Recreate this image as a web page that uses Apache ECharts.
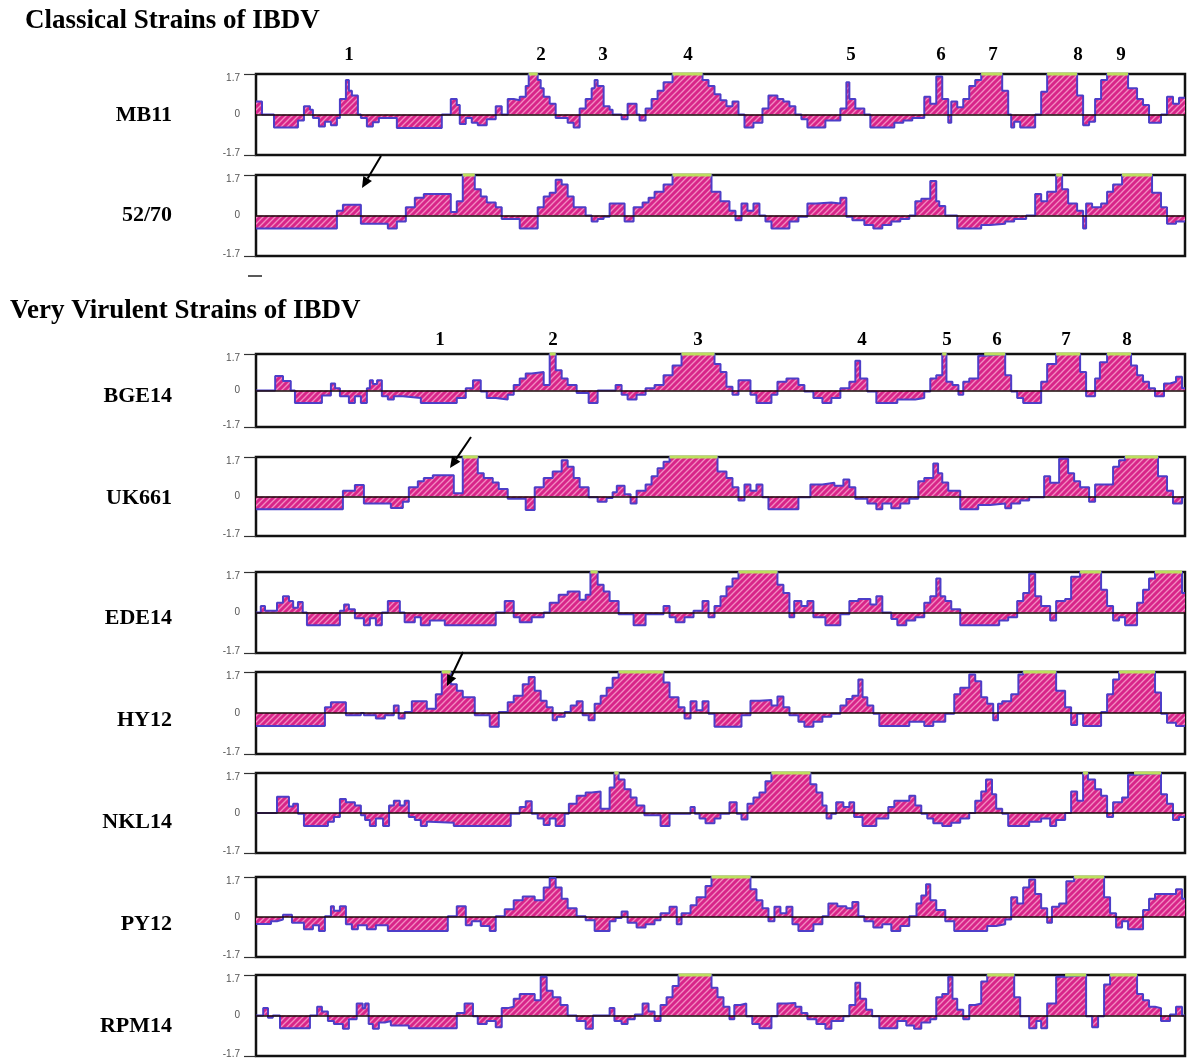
<!DOCTYPE html>
<html><head><meta charset="utf-8">
<script src="https://cdn.jsdelivr.net/npm/echarts@6/dist/echarts.min.js"></script>
<style>html,body{margin:0;padding:0;background:#fff}#c{width:1187px;height:1059px}</style>
</head><body><div id="c"></div>
<script>
// ---- DATA: antigenic index profiles, [position, value] breakpoints (value holds until next position) ----
const strains = ['MB11', '52/70', 'BGE14', 'UK661', 'EDE14', 'HY12', 'NKL14', 'PY12', 'RPM14'];

const mb11 = [[2,0.55],[4,0],[8,-0.55],[16,-0.25],[18,0.35],[20,0.2],[21,-0.15],[23,-0.5],[25,-0.3],[27,-0.45],[29,-0.15],[30,0.65],[32,1.45],[33,1.0],[34,0.8],[36,0],[37,-0.15],[39,-0.5],[41,-0.33],[43,-0.15],[49,-0.57],[64,0],[67,0.65],[69,0.4],[70,-0.4],[72,-0.15],[74,-0.35],[76,-0.45],[79,-0.2],[82,0.35],[84,0],[86,0.65],[88,0.6],[90,0.75],[92,1.2],[93,1.7],[96,1.45],[97,1.1],[98,0.75],[100,0.45],[102,-0.15],[106,-0.35],[108,-0.55],[110,0.25],[112,0.65],[114,1.1],[115,1.45],[116,1.2],[118,0.35],[120,0.2],[121,0],[124,-0.2],[126,0.45],[129,0],[130,-0.25],[132,0.25],[134,0.65],[136,1.0],[138,1.35],[141,1.7],[151,1.45],[153,1.2],[155,0.85],[157,0.6],[159,0.35],[161,0.55],[163,0],[165,-0.55],[168,-0.35],[171,0.25],[173,0.8],[176,0.65],[178,0.55],[180,0.35],[182,0],[184,-0.2],[186,-0.55],[192,-0.25],[197,0.25],[199,1.35],[200,0.65],[202,0.25],[205,0],[207,-0.55],[215,-0.35],[218,-0.25],[221,-0.15],[225,0.75],[227,0.45],[229,1.6],[231,0.65],[233,-0.35],[234,0.55],[236,0.3],[238,0.65],[240,1.2],[242,1.45],[244,1.7],[251,1.0],[253,0],[254,-0.55],[255,-0.3],[257,-0.55],[262,0],[264,0.95],[266,1.7],[276,0.8],[278,-0.45],[280,-0.3],[282,0.65],[284,1.45],[286,1.7],[293,1.1],[296,0.65],[298,0.4],[300,-0.35],[304,0],[306,0.75],[308,0.45],[310,0.7],[312,0.7]];

const s5270 = [[2,-0.55],[29,0.2],[31,0.45],[37,-0.35],[46,-0.55],[49,-0.25],[52,0.35],[55,0.75],[58,0.9],[67,0.15],[69,0.6],[71,1.7],[75,1.1],[77,0.8],[79,0.55],[82,0.35],[84,-0.15],[90,-0.55],[96,0.35],[98,0.8],[100,0.95],[102,1.5],[104,1.3],[106,0.8],[108,0.35],[112,0],[114,-0.25],[116,-0.15],[118,-0.05],[120,0.5],[125,-0.25],[128,0.35],[131,0.55],[133,0.75],[135,1.0],[138,1.3],[141,1.7],[154,1.0],[157,0.6],[160,0.2],[162,-0.2],[164,0.5],[166,0.2],[168,0.5],[170,0],[172,-0.25],[174,-0.55],[180,-0.25],[183,-0.05],[186,0.5],[189,0.55],[194,0.5],[197,0.75],[199,-0.05],[201,-0.2],[205,-0.4],[208,-0.55],[211,-0.4],[214,-0.25],[217,-0.15],[220,0],[222,0.6],[224,0.7],[227,1.45],[229,0.6],[230,0.4],[232,0],[236,-0.55],[244,-0.4],[247,-0.35],[252,-0.25],[255,-0.15],[259,0],[262,0.9],[264,0.6],[266,1.0],[269,1.7],[271,1.1],[273,0.5],[276,0.2],[278,-0.55],[279,0.5],[281,0.35],[284,0.5],[286,1.0],[288,1.3],[291,1.7],[301,0.95],[304,0.35],[306,-0.35],[309,-0.25],[312,-0.25]];

const bge14 = [[2,0],[8.4,0.68],[11,0.44],[13.6,0],[15,-0.58],[24,-0.23],[27,0.33],[28.4,0.1],[30,-0.27],[33,-0.58],[35,-0.27],[37,-0.58],[39,0.1],[40,0.48],[41,0.3],[42.4,0.48],[44,-0.27],[46,-0.42],[48,-0.27],[51,-0.35],[57,-0.58],[69,-0.35],[72,0.1],[74.4,0.48],[77,-0.05],[79,-0.35],[82,-0.42],[86,-0.2],[88,0.26],[90,0.56],[92,0.79],[94,0.86],[98,0.26],[100,1.7],[102,0.94],[104,0.56],[106,0.26],[109,-0.12],[113,-0.58],[116,0],[122,0.26],[124,-0.2],[126,-0.42],[129,-0.2],[132,0.1],[135,0.26],[138,0.71],[141,1.17],[144,1.7],[155,1.24],[157,0.86],[159,0.18],[161,-0.2],[163,0.48],[166,0.48],[167,-0.2],[169,-0.58],[174,-0.2],[176,0.41],[179,0.56],[183,0.26],[185,-0.05],[188,-0.35],[191,-0.58],[194,-0.35],[197,0.1],[200,0.41],[202,1.39],[203.6,0.56],[206,-0.05],[209,-0.58],[216,-0.42],[222,-0.35],[225,-0.05],[227,0.56],[229,0.71],[231,1.7],[232.4,0.41],[234.4,0.26],[236.4,-0.2],[238,0.41],[240,0.56],[243,1.62],[245,1.7],[252,0.71],[254,-0.05],[256,-0.35],[258,-0.58],[264,0.41],[266,1.24],[269,1.7],[277,0.86],[279,-0.27],[282,0.56],[283.6,1.32],[286,1.7],[294,1.17],[296,0.71],[298,0.41],[300,0.1],[302,-0.27],[305,0.33],[307,0.41],[309,0.64],[311,0.1],[312,0.1]];

const uk661 = [[2,-0.55],[31,0.25],[35,0.5],[38,-0.3],[47,-0.5],[51,-0.23],[53,0.4],[56,0.66],[58,0.8],[61,0.91],[68,0.14],[71,1.7],[76,1.0],[78,0.8],[81,0.6],[83,0.32],[86,-0.1],[92,-0.58],[95,0.4],[98,0.8],[101,1.08],[104,1.56],[106,1.28],[108,0.8],[110,0.4],[113,-0.03],[116,-0.23],[119,-0.06],[121,0.18],[122.4,0.46],[125,0.1],[127,-0.3],[129,0.25],[132,0.52],[134,0.87],[136,1.22],[138,1.5],[140,1.7],[156,1.08],[159,0.8],[161,0.4],[163,-0.17],[165,0.52],[167,0.25],[169,0.52],[171,-0.03],[173,-0.55],[183,-0.03],[187,0.52],[191,0.59],[195,0.46],[198,0.73],[200,0.4],[202,-0.1],[206,-0.3],[209,-0.55],[211,-0.3],[214,-0.51],[217,-0.3],[220,-0.1],[223,0.66],[225,0.8],[228,1.42],[229.6,1.0],[231,0.6],[233,0.25],[237,-0.55],[243,-0.37],[247,-0.3],[252,-0.51],[254,-0.3],[257,-0.17],[260,-0.03],[265,0.87],[267,0.59],[270,1.63],[273,1.0],[275,0.66],[277,0.4],[280,-0.23],[282,0.52],[288,1.28],[290,1.56],[292,1.7],[303,0.87],[306,0.25],[308,-0.3],[311,-0.03],[312,-0.03]];

const ede14 = [[2,0],[3.6,0.27],[5,0.07],[9,0.41],[11,0.68],[13,0.48],[14.4,0.2],[16,0.44],[17.6,0],[19,-0.54],[30,0.07],[31.4,0.34],[33,0.14],[35,-0.24],[38,-0.54],[40,-0.24],[42,-0.54],[44,0],[46,0.48],[50,0],[51.6,-0.41],[55,-0.2],[57,-0.54],[60,-0.34],[65,-0.54],[82,0],[85,0.48],[88,-0.2],[90,-0.41],[94,-0.2],[98,0],[100,0.41],[103,0.75],[106,0.88],[110,0.54],[112,0.75],[113.6,1.7],[116,1.16],[118,0.88],[120,0.48],[123,-0.07],[128,-0.54],[132,-0.07],[138,0.27],[140,-0.2],[142,-0.41],[145,-0.2],[148,0.07],[151,0.48],[153,-0.2],[155,0.27],[157,0.68],[159,1.09],[161,1.43],[163,1.7],[176,1.16],[178,0.82],[180,-0.2],[181.6,0.48],[184,0.27],[186,0.48],[188,-0.2],[192,-0.54],[197,-0.07],[200,0.48],[203,0.57],[207,0.34],[209,0.68],[211,0],[214,-0.27],[216,-0.54],[219,-0.34],[222,-0.2],[225,0.41],[227,0.68],[229,1.43],[230.4,0.68],[232,0.48],[234,0.14],[237,-0.54],[250,-0.34],[253,-0.2],[256,0.48],[258,0.82],[260,1.63],[262,0.68],[264,0.27],[267,-0.34],[269,0.48],[272,0.57],[274,1.5],[277,1.7],[284,0.95],[286,0.27],[288,-0.34],[290,-0.2],[292,-0.54],[296,0.41],[298,0.95],[300,1.43],[302,1.7],[311,0.82],[312,0.82]];

const hy12 = [[2,-0.54],[25,0.24],[27,0.45],[32,-0.09],[37,0],[38,-0.09],[42,-0.23],[45,-0.09],[48,0.31],[49.6,-0.23],[51.6,0.04],[54,0.49],[59,0.18],[62,0.78],[64,1.7],[67,1.19],[69,0.92],[71,0.65],[75,-0.09],[80,-0.57],[83,0.04],[86,0.45],[88,0.72],[91,1.19],[93,1.49],[95,0.92],[97,0.51],[99,0.24],[101,-0.3],[102.4,-0.16],[105,0.04],[107,0.31],[109,0.49],[111,-0.09],[113,-0.3],[115,0.38],[117,0.72],[119,1.05],[121,1.46],[123,1.7],[138,1.26],[140,0.65],[143,0.24],[145,-0.23],[147,0.49],[149,0.11],[151,0.49],[153,-0.03],[155,-0.57],[164,-0.09],[167,0.51],[170,0.54],[174,0.31],[176,0.68],[178,0.24],[180,-0.09],[183,-0.36],[185,-0.57],[188,-0.36],[191,-0.16],[194,-0.03],[197,0.31],[199,0.58],[201,0.72],[203,1.39],[204.4,0.65],[206,0.31],[208,-0.03],[210,-0.54],[220,-0.36],[225,-0.54],[228,-0.36],[232,-0.03],[235,0.78],[237,1.05],[240,1.6],[242,1.32],[244,0.65],[246,0.38],[248,-0.3],[249.6,0.38],[251,0.49],[254,0.78],[256.4,1.6],[258,1.7],[269,0.92],[272,0.24],[274,-0.5],[276,-0.03],[278,-0.54],[284,0.04],[286,0.78],[288,1.39],[290,1.7],[302,0.85],[304,-0.03],[306,-0.4],[309,-0.54],[312,-0.54]];

const nkl14 = [[2,0],[9,0.69],[13,0.28],[14.4,0.39],[16,-0.03],[18,-0.55],[26,-0.37],[28,-0.17],[30,0.59],[32,0.46],[35,0.32],[37,-0.1],[38.4,-0.3],[40,-0.55],[42,-0.23],[44.4,-0.55],[46.4,0.32],[48,0.52],[50,0.32],[51.6,0.52],[53,-0.17],[55,-0.3],[57,-0.55],[59,-0.37],[60,-0.41],[68,-0.55],[87,-0.03],[90,0.25],[92,0.5],[94,-0.03],[96,-0.23],[98,-0.51],[100,-0.23],[102,-0.55],[105,-0.03],[106.4,0.39],[109,0.73],[112,0.87],[114,0.91],[117,0.18],[120,1.08],[121.6,1.7],[123,1.42],[125,1.01],[127,0.66],[129,0.32],[131.6,-0.1],[137,-0.55],[140,-0.03],[147,0.25],[148.4,-0.03],[150,-0.23],[152,-0.44],[155,-0.23],[157,-0.03],[160,0.46],[162.4,-0.03],[164,-0.28],[166,0.39],[168,0.66],[170,0.87],[172,1.35],[174,1.7],[187,1.22],[189,0.87],[191,0.32],[192.4,-0.23],[194,-0.03],[195.6,0.46],[198,0.25],[200,0.46],[201.6,-0.17],[204.4,-0.55],[209,-0.23],[213,0.25],[215,0.52],[220,0.73],[222,0.32],[224,-0.03],[226,-0.23],[228,-0.44],[231,-0.55],[234,-0.41],[237,-0.23],[240,0],[242,0.52],[244,0.91],[245.6,1.42],[247.6,0.8],[249,0.18],[251,-0.03],[253,-0.55],[260,-0.37],[264,-0.23],[267,-0.55],[269,-0.3],[272,0],[274,0.91],[276,0.52],[278,1.7],[279.6,1.42],[282,1.01],[284,0.73],[286,-0.17],[288,0.46],[291,0.66],[293,1.63],[295,1.7],[304,0.8],[306,0.39],[308,-0.3],[310,-0.17],[312,-0.17]];

const py12 = [[2,-0.3],[7,-0.18],[9,-0.11],[11,0.1],[14,-0.24],[18,-0.52],[21,-0.35],[23,-0.59],[25,0.03],[27,0.46],[28,0.27],[30,0.46],[32,-0.31],[34,-0.52],[36,-0.35],[39,-0.52],[42,-0.35],[46,-0.59],[66,0.03],[69,0.46],[72,-0.35],[74,-0.18],[77,-0.38],[80,-0.59],[82,0.03],[85,0.33],[88,0.71],[91,0.87],[95,0.71],[98,1.25],[100,1.66],[102,1.25],[104,0.78],[106,0.37],[109,0.03],[112,-0.14],[115,-0.59],[120,-0.18],[122,-0.04],[124,0.23],[126,-0.24],[129,-0.45],[132,-0.31],[135,-0.14],[137,0.16],[140,0.44],[142.4,-0.31],[144,0.16],[147,0.5],[149,0.84],[152,1.32],[154,1.7],[167,1.18],[169,0.71],[171,0.37],[173,-0.18],[175,0.44],[177,0.16],[179,0.44],[181,-0.31],[183,-0.59],[188,-0.31],[191,0.03],[193,0.57],[196,0.46],[199,0.37],[201,0.64],[203,0.03],[205,-0.18],[208,-0.45],[211,-0.31],[214,-0.59],[217,-0.38],[220,0.03],[222.4,0.57],[224,0.91],[225.6,1.39],[227,0.71],[229,0.3],[232,-0.18],[235,-0.59],[246,-0.38],[249,-0.31],[252,-0.11],[254,0.84],[256,0.57],[258,1.25],[260,1.59],[262,0.98],[264,0.37],[266,-0.24],[267.6,0.44],[270,0.57],[272.4,1.52],[275,1.7],[285,0.84],[287,0.16],[289,-0.45],[291,-0.18],[293,-0.52],[298,0.3],[300,0.78],[302,0.98],[309,1.18],[311,0.78],[312,0.78]];

const rpm14 = [[2,0],[4.4,0.31],[6,-0.09],[7.6,0],[10,-0.53],[20,0],[22.4,0.37],[24,0.17],[26,-0.23],[28,-0.36],[31,-0.56],[33,-0.16],[35.6,0.5],[37.6,0.3],[38.4,0.5],[39.6,-0.36],[41,-0.56],[43,-0.29],[45,-0.23],[47,-0.42],[53,-0.53],[69,0.11],[71.6,0.5],[74.4,-0.03],[76,-0.36],[79,-0.23],[82,-0.49],[84,0.31],[86,0.37],[88,0.7],[90,0.9],[95,0.64],[97,1.63],[99,1.04],[101,0.77],[103.6,0.44],[106,0],[109,-0.23],[112,-0.56],[114.4,0],[120,0.31],[121.6,-0.23],[124,-0.36],[126,-0.16],[128.4,0.04],[131,0.5],[133,0.17],[135,-0.23],[137,0.44],[139,0.77],[141,1.24],[143,1.7],[154,1.17],[156,0.77],[158,0.37],[160,-0.16],[161.6,0.44],[163.6,0.5],[165.6,-0.03],[167.6,-0.36],[170,-0.53],[174,-0.03],[176,0.5],[179,0.53],[182,0.37],[184,0.11],[186,-0.16],[189,-0.36],[192,-0.56],[194,-0.23],[198,-0.03],[200,0.44],[202,1.37],[203.6,0.7],[205.6,0.24],[207.6,-0.03],[210,-0.53],[216,-0.23],[219,-0.42],[221.6,-0.56],[224,-0.29],[227,-0.16],[229,0.77],[231,0.9],[233,1.63],[234.4,0.7],[236,0.24],[238,-0.16],[240,0.44],[242,0.5],[244,1.43],[246,1.7],[255,0.77],[257,-0.03],[260,-0.53],[262.4,-0.23],[264,-0.53],[266,0.5],[269,1.63],[272,1.7],[279,-0.03],[281,-0.49],[283,-0.03],[285,1.3],[287,1.7],[296,0.9],[298,0.64],[300,0.37],[302,0.31],[304,-0.23],[307,0.04],[309,0.37],[311,0],[312,0]];

const profiles = [mb11, s5270, bge14, uk661, ede14, hy12, nkl14, py12, rpm14];
const yTickValues = [-1.7, 0, 1.7];
const yMax = 1.7;
const classicalSites = ['1','2','3','4','5','6','7','8','9'];
const virulentSites = ['1','2','3','4','5','6','7','8'];
const groupTitles = ['Classical Strains of IBDV', 'Very Virulent Strains of IBDV'];

// ---- LAYOUT (pixels) ----
const panelTop    = [74, 175, 354, 457, 572, 672, 773, 877, 975];
const panelHeight = [81, 81, 73, 79, 81, 82, 80, 80, 81];
const labelY      = [115, 215, 396, 498, 618, 720, 822, 924, 1026];
const classicalSiteX = [349, 541, 603, 688, 851, 941, 993, 1078, 1121];
const virulentSiteX  = [440, 553, 698, 862, 947, 997, 1066, 1127];

function hatch() {
  const s = 6, c = document.createElement('canvas');
  c.width = s; c.height = s;
  const g = c.getContext('2d');
  g.fillStyle = '#d82589'; g.fillRect(0, 0, s, s);
  g.strokeStyle = '#f28cc2'; g.lineWidth = 1.3;
  g.beginPath();
  g.moveTo(0, s); g.lineTo(s, 0);
  g.moveTo(-s/2, s/2); g.lineTo(s/2, -s/2);
  g.moveTo(s/2, 1.5*s); g.lineTo(1.5*s, s/2);
  g.stroke();
  return c;
}
const pattern = { image: hatch(), repeat: 'repeat' };

// segments of each profile that reach the top of the scale
function topSegments(d) {
  const out = [];
  for (let i = 0; i < d.length - 1; i++) {
    if (d[i][1] >= yMax - 0.01) { out.push([d[i][0], yMax], [d[i + 1][0], yMax], '-'); }
  }
  return out;
}

const grids = [], xAxes = [], yAxes = [], series = [];
profiles.forEach((d, i) => {
  grids.push({ left: 256, width: 929, top: panelTop[i], height: panelHeight[i],
    show: true, borderColor: '#111', borderWidth: 2.5, backgroundColor: 'transparent' });
  xAxes.push({ gridIndex: i, type: 'value', min: 2, max: 312, z: 10,
    axisLine: { show: true, onZero: true, lineStyle: { color: '#1a0a0a', width: 1.5 } },
    axisTick: { show: false }, axisLabel: { show: false }, splitLine: { show: false } });
  yAxes.push({ gridIndex: i, type: 'value', min: -1.7, max: 1.7, interval: 1.7,
    axisLine: { show: false }, splitLine: { show: false },
    axisTick: { show: true, inside: false, length: 12, customValues: [-1.7, 1.7],
      lineStyle: { color: '#333', width: 1.2 } },
    axisLabel: { show: true, customValues: yTickValues, margin: 16, color: '#555',
      fontFamily: 'Liberation Sans', fontSize: 10,
      formatter: v => v > 0 ? '{t|' + v + '}' : (v < 0 ? '{b|' + v + '}' : '{m|0}'),
      rich: { t: { padding: [8, 0, 0, 0], fontSize: 10, color: '#555' },
              b: { padding: [0, 0, 4, 0], fontSize: 10, color: '#555' },
              m: { fontSize: 10, color: '#555' } } } });
  series.push({ name: strains[i], type: 'line', xAxisIndex: i, yAxisIndex: i, step: 'end',
    symbol: 'none', clip: false, data: d, z: 3,
    lineStyle: { width: 2, color: '#4d3ec8' },
    areaStyle: { color: pattern, opacity: 1 } });
  series.push({ name: strains[i] + ' top', type: 'line', xAxisIndex: i, yAxisIndex: i,
    symbol: 'none', clip: false, data: topSegments(d), z: 4, connectNulls: false,
    lineStyle: { width: 3, color: '#bcdf5e' } });
});

function arrow(x1, y1, x2, y2) {
  const dx = x2 - x1, dy = y2 - y1, L = Math.hypot(dx, dy), ux = dx / L, uy = dy / L;
  const hl = 11, hw = 5, bx = x2 - ux * hl, by = y2 - uy * hl;
  return [
    { type: 'line', shape: { x1, y1, x2: bx, y2: by }, style: { stroke: '#000', lineWidth: 2 }, z: 20 },
    { type: 'polygon', shape: { points: [[x2, y2], [bx - uy * hw, by + ux * hw], [bx + uy * hw, by - ux * hw]] },
      style: { fill: '#000' }, z: 20 }
  ];
}

const serif = '"Liberation Serif", "Times New Roman", serif';
const graphics = [];
graphics.push({ type: 'text', x: 25, y: 21, style: { text: groupTitles[0], font: 'bold 27px ' + serif, fill: '#000', textAlign: 'left', textVerticalAlign: 'middle' } });
graphics.push({ type: 'text', x: 10, y: 311, style: { text: groupTitles[1], font: 'bold 27px ' + serif, fill: '#000', textAlign: 'left', textVerticalAlign: 'middle' } });
strains.forEach((s, i) => graphics.push({ type: 'text', x: 172, y: labelY[i],
  style: { text: s, font: 'bold 22px ' + serif, fill: '#000', textAlign: 'right', textVerticalAlign: 'middle' } }));
classicalSites.forEach((t, i) => graphics.push({ type: 'text', x: classicalSiteX[i], y: 55,
  style: { text: t, font: 'bold 19px ' + serif, fill: '#000', textAlign: 'center', textVerticalAlign: 'middle' } }));
virulentSites.forEach((t, i) => graphics.push({ type: 'text', x: virulentSiteX[i], y: 340,
  style: { text: t, font: 'bold 19px ' + serif, fill: '#000', textAlign: 'center', textVerticalAlign: 'middle' } }));
graphics.push(...arrow(381, 156, 362, 188));
graphics.push(...arrow(471, 437, 450, 468));
graphics.push(...arrow(463, 652, 447, 686));
graphics.push({ type: 'line', shape: { x1: 248, y1: 276, x2: 262, y2: 276 }, style: { stroke: '#222', lineWidth: 1.5 } });

const chart = echarts.init(document.getElementById('c'), null, { renderer: 'canvas' });
chart.setOption({
  animation: false,
  backgroundColor: '#fff',
  grid: grids, xAxis: xAxes, yAxis: yAxes, series,
  graphic: { elements: graphics }
});
</script></body></html>
